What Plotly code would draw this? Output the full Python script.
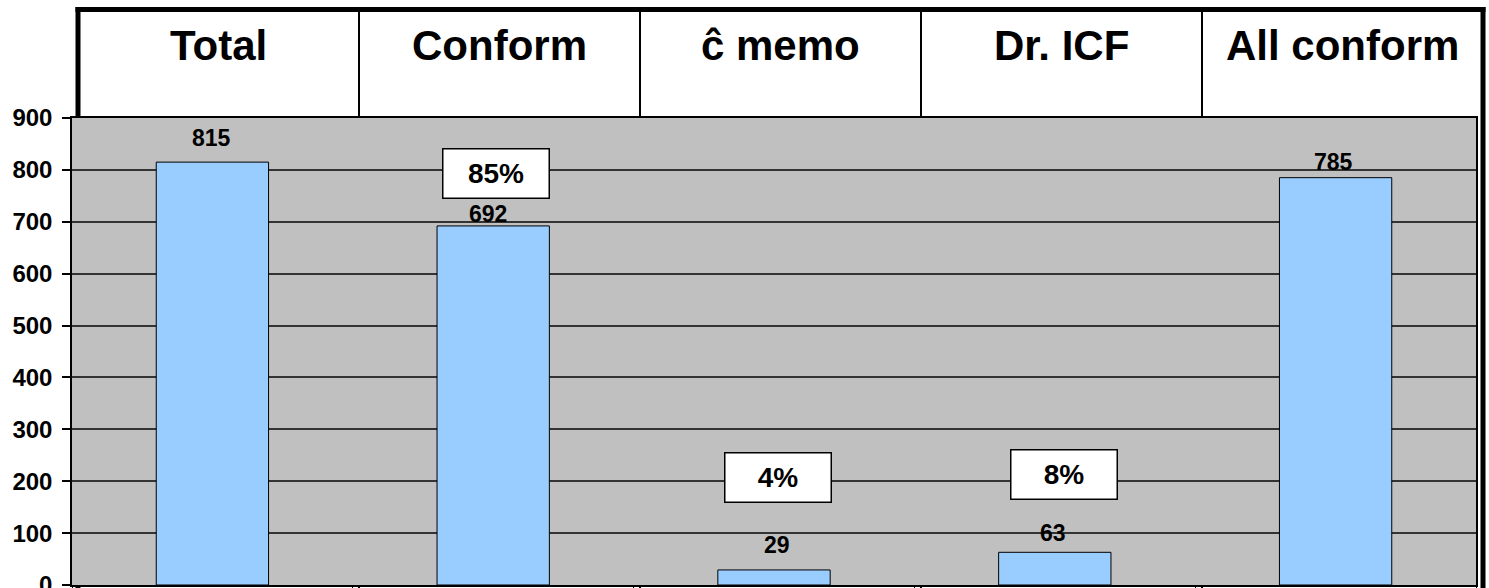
import plotly.graph_objects as go

# Chart data
categories = ["Total", "Conform", "ĉ memo", "Dr. ICF", "All conform"]
counts = [815, 692, 29, 63, 785]
pct_categories = ["Conform", "ĉ memo", "Dr. ICF"]
y_ticks = [0, 100, 200, 300, 400, 500, 600, 700, 800, 900]

# Page geometry (pixels)
W, H = 1489, 588
L, R, T, B = 72, 1476, 118, 585

FONT = "Liberation Sans, Arial, sans-serif"
BAR_FILL = "#99CCFF"
PLOT_BG = "#C0C0C0"
GRID = "#333333"

# label placement: pixel nudges for each value label (dx, dy)
value_label_nudge = [(-1, -24), (-5, -12), (3, -25), (-2, -19), (-2, -16)]
# percent boxes: vertical centre (axis units) and horizontal nudge (pixels)
pct_box_y = [793, 208, 213]
pct_box_dx = [3, 4, 9]


def px(x):
    return (x - L) / (R - L)


def py(y):
    return (B - y) / (B - T)


fig = go.Figure()
fig.add_trace(go.Bar(
    x=categories,
    y=counts,
    width=0.4,
    marker=dict(color=BAR_FILL, line=dict(color="black", width=1)),
    hoverinfo="x+y",
))

annotations = []
# value labels above the bars
for cat, val, (dx, dy) in zip(categories, counts, value_label_nudge):
    annotations.append(dict(
        x=cat, y=val, xref="x", yref="y", text=f"<b>{val}</b>",
        showarrow=False, xshift=dx, yshift=-dy, yanchor="middle",
        font=dict(family=FONT, size=23, color="black"),
    ))

# share of the total, in white boxes
total = counts[0]
for cat, yb, dx in zip(pct_categories, pct_box_y, pct_box_dx):
    share = counts[categories.index(cat)] / total * 100
    annotations.append(dict(
        x=cat, y=yb, xref="x", yref="y", text=f"<b>{share:.0f}%</b>",
        showarrow=False, xshift=dx, yanchor="middle",
        width=105, height=48, borderpad=0, borderwidth=1.5,
        bordercolor="black", bgcolor="white",
        font=dict(family=FONT, size=28, color="black"),
    ))

# header row with the category names
hdr_left, hdr_right, hdr_top = 78, 1483, 9.5
col_w = (hdr_right - hdr_left) / len(categories)
for i, cat in enumerate(categories):
    cx = hdr_left + col_w * (i + 0.5)
    annotations.append(dict(
        x=px(cx), y=py(46), xref="paper", yref="paper", text=f"<b>{cat}</b>",
        showarrow=False, xanchor="center", yanchor="middle",
        font=dict(family=FONT, size=42, color="black"),
    ))

shapes = []


def vline(sx, y0, y1, width):
    shapes.append(dict(type="line", xref="paper", yref="paper", layer="below",
                       x0=px(sx), x1=px(sx), y0=py(y0), y1=py(y1),
                       line=dict(color="black", width=width)))


# thin column separators (header part, plus the stubs under the plot)
for i in range(1, len(categories)):
    sx = hdr_left + col_w * i
    vline(sx, hdr_top, T, 2)
    vline(sx, B, H + 2, 2)
# heavy outer frame of the header table
shapes.append(dict(type="line", xref="paper", yref="paper", layer="below",
                   x0=px(hdr_left - 2.5), x1=px(hdr_right + 2.5),
                   y0=py(hdr_top), y1=py(hdr_top),
                   line=dict(color="black", width=5)))
vline(hdr_left, hdr_top - 2.5, T, 5)
vline(hdr_left, B, H + 2, 5)
vline(hdr_right, hdr_top - 2.5, H + 2, 5)

fig.update_layout(
    width=W, height=H,
    margin=dict(l=L, r=W - R, t=T, b=H - B, pad=0, autoexpand=False),
    paper_bgcolor="white",
    plot_bgcolor=PLOT_BG,
    showlegend=False,
    bargap=0.6,
    annotations=annotations,
    shapes=shapes,
    font=dict(family=FONT, color="black"),
)
fig.update_xaxes(
    type="category", range=[-0.5, len(categories) - 0.5], automargin=False,
    showticklabels=False, showgrid=False, zeroline=False,
    ticks="outside", tickson="boundaries", ticklen=4, tickcolor="black",
    showline=True, linecolor="black", linewidth=1.5, mirror=True,
)
fig.update_yaxes(
    range=[0, 900], tickvals=y_ticks, ticktext=[f"<b>{v}</b>" for v in y_ticks],
    automargin=False,
    showgrid=True, gridcolor=GRID, gridwidth=1.5, zeroline=False,
    ticks="outside", ticklen=8, tickcolor="black", tickwidth=1.5,
    ticklabelstandoff=5, ticklabeloverflow="allow",
    tickfont=dict(family=FONT, size=24, color="black"),
    showline=True, linecolor="black", linewidth=1.5, mirror=True,
)

fig.write_html("out.html")
